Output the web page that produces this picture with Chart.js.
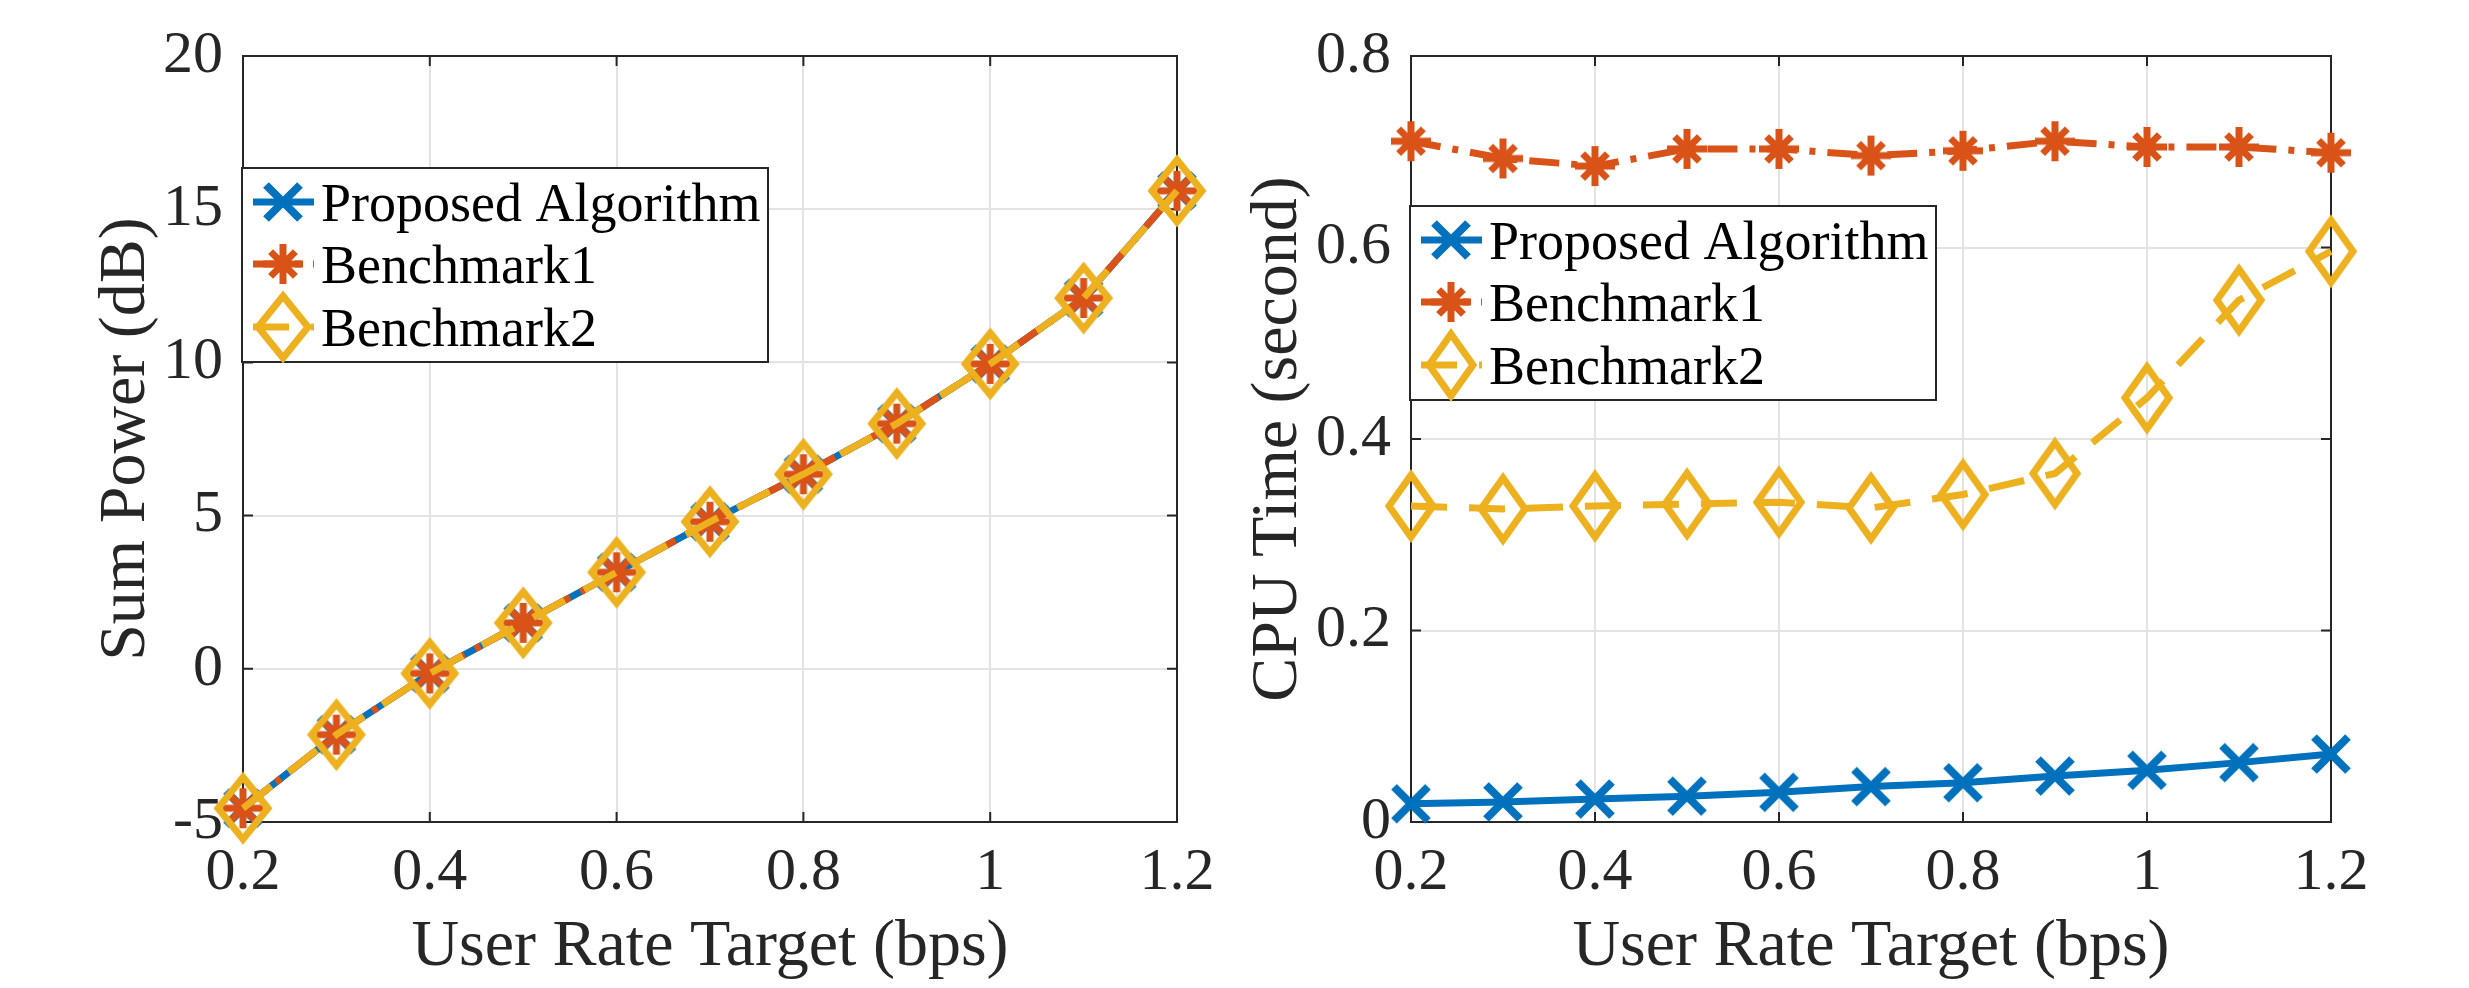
<!DOCTYPE html>
<html>
<head>
<meta charset="utf-8">
<title>Sum power and CPU time vs user rate target</title>
<script src="https://cdn.jsdelivr.net/npm/chart.js@4.4.1/dist/chart.umd.min.js"></script>
<style>
  html, body { margin: 0; padding: 0; background: #fff; }
  #wrap { position: relative; width: 2469px; height: 988px; }
  .panel { position: absolute; top: 0; height: 988px; }
  #left { left: 0; width: 1234px; }
  #right { left: 1234px; width: 1235px; }
</style>
</head>
<body>
<div id="wrap">
  <div class="panel" id="left"><canvas id="powerChart" width="1234" height="988"></canvas></div>
  <div class="panel" id="right"><canvas id="cpuChart" width="1235" height="988"></canvas></div>
</div>
<script>
// ============================================
// Data
// ============================================

const rates = [0.2, 0.3, 0.4, 0.5, 0.6, 0.7, 0.8, 0.9, 1.0, 1.1, 1.2];
const seriesNames = ['Proposed Algorithm', 'Benchmark1', 'Benchmark2'];

// Sum Power (dB) - the three curves lie on top of each other
const powerProposed = [-4.55, -2.15, -0.15, 1.5, 3.15, 4.8, 6.35, 8.0, 9.95, 12.1, 15.6];
const powerBench1   = [-4.55, -2.15, -0.15, 1.5, 3.15, 4.8, 6.35, 8.0, 9.95, 12.1, 15.6];
const powerBench2   = [-4.55, -2.15, -0.15, 1.5, 3.15, 4.8, 6.35, 8.0, 9.95, 12.1, 15.6];

// CPU Time (second)
const cpuProposed = [0.019, 0.021, 0.024, 0.027, 0.031, 0.037, 0.041, 0.048, 0.054, 0.062, 0.071];
const cpuBench1   = [0.711, 0.693, 0.685, 0.703, 0.703, 0.696, 0.701, 0.711, 0.705, 0.705, 0.699];
const cpuBench2   = [0.330, 0.327, 0.330, 0.332, 0.334, 0.328, 0.342, 0.364, 0.443, 0.545, 0.596];

// Tick labels
const rateTicks = [0.2, 0.4, 0.6, 0.8, 1, 1.2];
const powerTicks = [-5, 0, 5, 10, 15, 20];
const cpuTicks = [0, 0.2, 0.4, 0.6, 0.8];

// ============================================
// Styling helpers
// ============================================

const BLUE = '#0072BD';
const RED = '#D95319';
const YELLOW = '#EDB120';
const AXIS = '#262626';
const SERIF = "'Liberation Serif', 'Times New Roman', serif";

// MATLAB-like markers drawn on small canvases, used as pointStyle
function makeMarker(kind, color, w, h, lw) {
  const c = document.createElement('canvas');
  c.width = Math.ceil(w + lw * 2);
  c.height = Math.ceil(h + lw * 2);
  const ctx = c.getContext('2d');
  const cx = c.width / 2, cy = c.height / 2;
  ctx.strokeStyle = color;
  ctx.lineWidth = lw;
  ctx.lineJoin = 'miter';
  ctx.beginPath();
  if (kind === 'x') {
    ctx.moveTo(cx - w / 2, cy - h / 2); ctx.lineTo(cx + w / 2, cy + h / 2);
    ctx.moveTo(cx + w / 2, cy - h / 2); ctx.lineTo(cx - w / 2, cy + h / 2);
  } else if (kind === 'star') {
    const d = 0.62;
    ctx.moveTo(cx, cy - h / 2); ctx.lineTo(cx, cy + h / 2);
    ctx.moveTo(cx - w / 2, cy); ctx.lineTo(cx + w / 2, cy);
    ctx.moveTo(cx - w / 2 * d, cy - h / 2 * d); ctx.lineTo(cx + w / 2 * d, cy + h / 2 * d);
    ctx.moveTo(cx + w / 2 * d, cy - h / 2 * d); ctx.lineTo(cx - w / 2 * d, cy + h / 2 * d);
  } else if (kind === 'diamond') {
    ctx.moveTo(cx, cy - h / 2);
    ctx.lineTo(cx + w / 2, cy);
    ctx.lineTo(cx, cy + h / 2);
    ctx.lineTo(cx - w / 2, cy);
    ctx.closePath();
  }
  ctx.stroke();
  return c;
}

function toPoints(values) {
  return rates.map((r, i) => ({ x: r, y: values[i] }));
}

function buildDatasets(vals, diamondW) {
  const markers = [
    makeMarker('x', BLUE, 34, 34, 8),
    makeMarker('star', RED, 40, 40, 7),
    makeMarker('diamond', YELLOW, diamondW, 62, 7)
  ];
  const colors = [BLUE, RED, YELLOW];
  const dashes = [[], [30, 12, 6, 12], [36, 22]];
  return vals.map((v, i) => ({
    label: seriesNames[i],
    data: toPoints(v),
    borderColor: colors[i],
    backgroundColor: colors[i],
    borderWidth: 7,
    borderDash: dashes[i],
    pointStyle: markers[i],
    pointRadius: 20,
    pointHoverRadius: 20,
    tension: 0,
    clip: false,
    order: 3 - i
  }));
}

// ============================================
// Plugins: axes box with inward ticks, boxed legend
// ============================================

const axesBox = {
  id: 'axesBox',
  beforeDatasetsDraw(chart) {
    const { ctx, chartArea: a, scales } = chart;
    const len = 10;
    ctx.save();
    ctx.strokeStyle = AXIS;
    ctx.lineWidth = 2;
    ctx.strokeRect(a.left, a.top, a.right - a.left, a.bottom - a.top);
    ctx.beginPath();
    scales.x.ticks.forEach(t => {
      const px = scales.x.getPixelForValue(t.value);
      ctx.moveTo(px, a.bottom); ctx.lineTo(px, a.bottom - len);
      ctx.moveTo(px, a.top); ctx.lineTo(px, a.top + len);
    });
    scales.y.ticks.forEach(t => {
      const py = scales.y.getPixelForValue(t.value);
      ctx.moveTo(a.left, py); ctx.lineTo(a.left + len, py);
      ctx.moveTo(a.right, py); ctx.lineTo(a.right - len, py);
    });
    ctx.stroke();
    ctx.restore();
  }
};

const boxLegend = {
  id: 'boxLegend',
  afterDatasetsDraw(chart, args, opts) {
    const { ctx, chartArea: a } = chart;
    const L = a.left - 1;
    const T = a.top + opts.offsetTop;
    const W = 526, H = 194;
    ctx.save();
    ctx.fillStyle = '#fff';
    ctx.fillRect(L, T, W, H);
    ctx.strokeStyle = AXIS;
    ctx.lineWidth = 2;
    ctx.strokeRect(L, T, W, H);

    const baselines = [53, 115, 178];
    chart.data.datasets.forEach((ds, i) => {
      const base = T + baselines[i];
      const ly = base - 19;
      ctx.strokeStyle = ds.borderColor;
      ctx.lineWidth = ds.borderWidth;
      ctx.setLineDash(ds.borderDash);
      ctx.beginPath();
      ctx.moveTo(L + 11, ly);
      ctx.lineTo(L + 72, ly);
      ctx.stroke();
      ctx.setLineDash([]);
      const m = ds.pointStyle;
      ctx.drawImage(m, L + 41 - m.width / 2, ly - m.height / 2);
      ctx.fillStyle = '#000';
      ctx.font = '54px ' + SERIF;
      ctx.textBaseline = 'alphabetic';
      ctx.textAlign = 'left';
      ctx.fillText(ds.label, L + 79, base);
    });
    ctx.restore();
  }
};

// ============================================
// Chart factory
// ============================================

function makeChart(canvasId, cfg) {
  const tickFont = { family: SERIF, size: 60 };
  const titleFont = { family: SERIF, size: 66, lineHeight: 1.0 };
  return new Chart(document.getElementById(canvasId), {
    type: 'line',
    data: { datasets: cfg.datasets },
    options: {
      responsive: false,
      animation: false,
      layout: { padding: cfg.padding },
      plugins: {
        legend: { display: false },
        tooltip: { enabled: false },
        boxLegend: { offsetTop: cfg.legendTop }
      },
      scales: {
        x: {
          type: 'linear',
          min: 0.2,
          max: 1.2,
          afterBuildTicks: s => { s.ticks = rateTicks.map(v => ({ value: v })); },
          afterFit: s => { s.height = 163; },
          grid: { color: '#e3e3e3', lineWidth: 2, drawTicks: false },
          border: { display: false },
          ticks: {
            font: tickFont,
            color: AXIS,
            padding: 15,
            maxRotation: 0,
            callback: v => String(v)
          },
          title: { display: true, text: 'User Rate Target (bps)', font: titleFont, color: AXIS }
        },
        y: {
          type: 'linear',
          min: cfg.yTicks[0],
          max: cfg.yTicks[cfg.yTicks.length - 1],
          afterBuildTicks: s => { s.ticks = cfg.yTicks.map(v => ({ value: v })); },
          afterFit: s => { s.width = cfg.yWidth; },
          grid: { color: '#e3e3e3', lineWidth: 2, drawTicks: false },
          border: { display: false },
          ticks: {
            font: tickFont,
            color: AXIS,
            padding: 20,
            callback: v => String(v)
          },
          title: { display: true, text: cfg.yTitle, font: titleFont, color: AXIS }
        }
      }
    },
    plugins: [axesBox, boxLegend]
  });
}

document.addEventListener('DOMContentLoaded', () => {
  makeChart('powerChart', {
    datasets: buildDatasets([powerProposed, powerBench1, powerBench2], 50),
    yTicks: powerTicks,
    yTitle: 'Sum Power (dB)',
    yWidth: 153,
    padding: { left: 90, right: 57, top: 53, bottom: 3 },
    legendTop: 112
  });

  makeChart('cpuChart', {
    datasets: buildDatasets([cpuProposed, cpuBench1, cpuBench2], 44),
    yTicks: cpuTicks,
    yTitle: 'CPU Time (second)',
    yWidth: 169,
    padding: { left: 8, right: 138, top: 53, bottom: 3 },
    legendTop: 150
  });
});
</script>
</body>
</html>
